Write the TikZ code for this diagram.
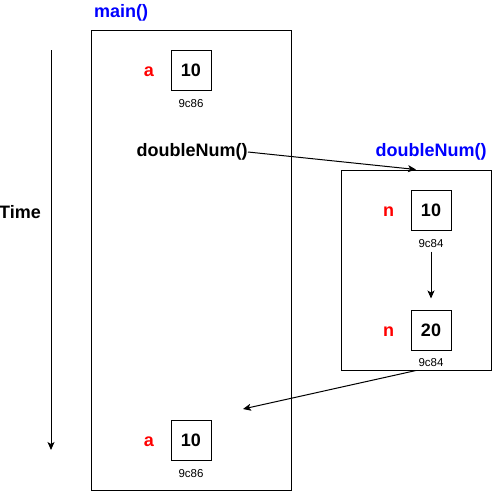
\documentclass[tikz,border=0pt]{standalone}
\usepackage{fontspec}
\setmainfont{Liberation Sans}
\usetikzlibrary{arrows.meta,positioning,calc}

\begin{document}
\begin{tikzpicture}[x=1pt,y=-1pt,line width=1pt,
	frame/.style={draw,minimum width=#1},
	cell/.style={draw,minimum size=40pt,inner sep=0pt,font=\bfseries\fontsize{18}{21}\selectfont},
	var/.style={text=red,inner sep=0pt,yshift=-2pt,font=\bfseries\fontsize{18}{21}\selectfont},
	addr/.style={inner sep=0pt,font=\fontsize{11.5}{13}\selectfont},
	fname/.style={inner sep=0pt,font=\bfseries\fontsize{18}{21}\selectfont},
	arr/.style={-{Stealth[length=8pt,width=7pt,inset=2pt]}}]
	\useasboundingbox (0,0) rectangle (492,491);
	% frames
	\node[frame=200pt,minimum height=460pt] (main) at (191,260) {};
	\node[frame=150pt,minimum height=200pt] (dbl) at (416,270) {};
	\node[fname,text=blue] (mainname) at (121,13) {main()};
	\node[fname,text=blue] (dblname) at (431,152) {doubleNum()};
	% time axis
	\coordinate (t0) at (51,50);
	\coordinate (t1) at (51,450);
	\node[fname] (time) at (20,212) {Time};
	\draw[arr] (t0) -- (t1);
	% main, before the call
	\node[cell] (a1) at (191,70) {10};
	\node[var] (a1var) [left=16pt of a1] {a};
	\node[addr] (a1addr) [below=8pt of a1] {9c86};
	\node[fname] (call) at (192,152) {doubleNum()};
	% doubleNum
	\node[cell] (n1) at (431,210) {10};
	\node[var] (n1var) [left=16pt of n1] {n};
	\node[addr] (n1addr) [below=8pt of n1] {9c84};
	\node[cell] (n2) at (431,330) {20};
	\node[var] (n2var) [left=16pt of n2] {n};
	\node[addr] (n2addr) [below=7pt of n2] {9c84};
	% main, after the call
	\node[cell] (a2) at (191,440) {10};
	\node[var] (a2var) [left=16pt of a2] {a};
	\node[addr] (a2addr) [below=8pt of a2] {9c86};
	\coordinate (back) at (243,409);
	\draw[arr] (call.east) -- (dbl.north);
	\draw[arr,shorten <=4pt,shorten >=11pt] (n1addr) -- (n2);
	\draw[arr] (dbl.south) -- (back);
\end{tikzpicture}
\end{document}
